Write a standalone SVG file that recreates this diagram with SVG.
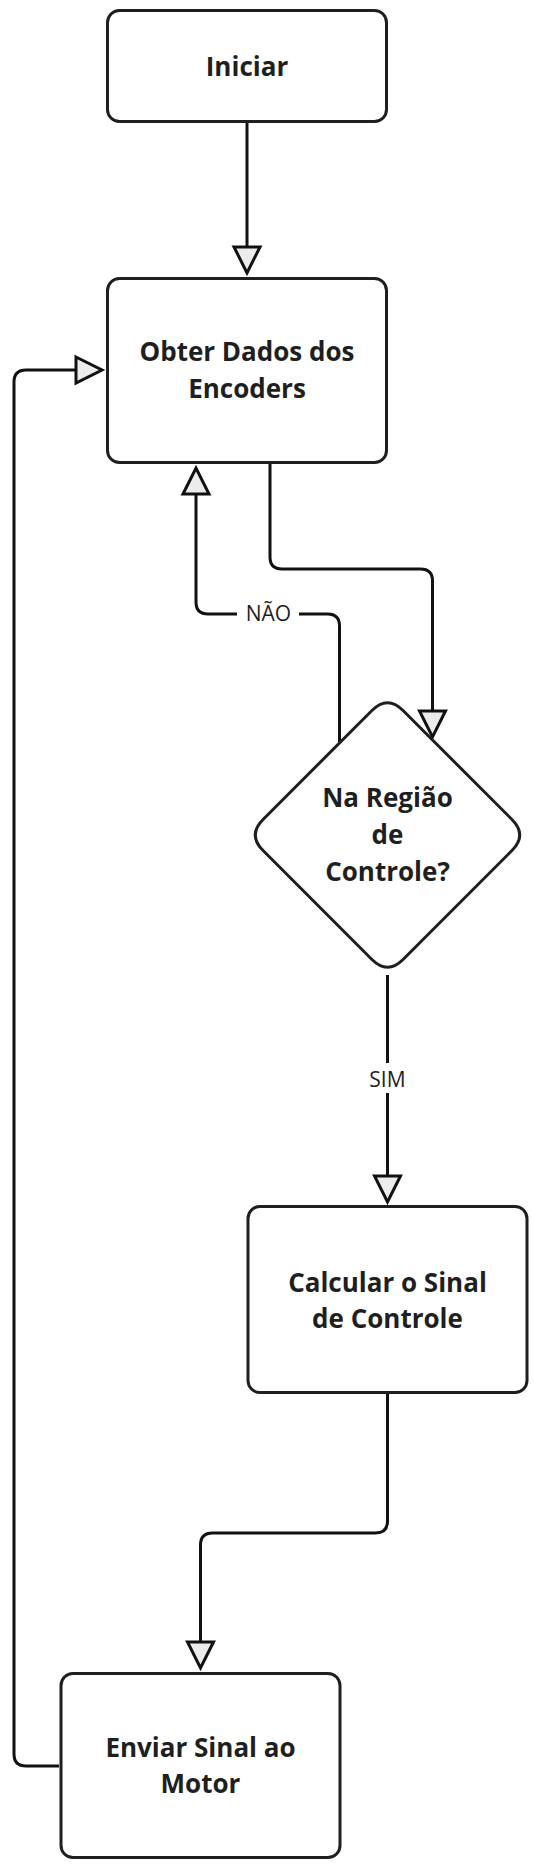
<svg xmlns="http://www.w3.org/2000/svg" width="534" height="1871" viewBox="0 0 534 1871">
<style>
.box{fill:#ffffff;stroke:#1f1f1f;stroke-width:3}
.t{font-family:"Open Sans","Noto Sans","DejaVu Sans",sans-serif;font-weight:bold;font-size:26px;fill:#1f1f1f;text-anchor:middle}
.lbl{font-family:"Open Sans","Noto Sans","DejaVu Sans",sans-serif;font-size:21px;fill:#1f1f1f;text-anchor:middle}
.c{fill:none;stroke:#111;stroke-width:3}
.ah{fill:#ececec;stroke:#111;stroke-width:3;stroke-linejoin:miter}
</style>
<defs>
<marker id="arr" markerUnits="userSpaceOnUse" markerWidth="40" markerHeight="40" viewBox="-33 -20 40 40" refX="0" refY="0" orient="auto">
<path class="ah" d="M-26,-13 L0,0 L-26,13 Z"/>
</marker>
</defs>
<rect width="534" height="1871" fill="#ffffff"/>
<g id="connectors">
<path class="c" d="M247,122 L247,273" marker-end="url(#arr)"/>
<path class="c" d="M270,462 L270,557 Q270,569 282,569 L420.5,569 Q432.5,569 432.5,581 L432.5,737" marker-end="url(#arr)"/>
<path class="c" d="M339.5,742 L339.5,626 Q339.5,614 327.5,614 L208,614 Q196,614 196,602 L196,468" marker-end="url(#arr)"/>
<rect x="237" y="600" width="62" height="28" fill="#ffffff"/>
<text class="lbl" x="268.5" y="621">NÃO</text>
<path class="c" d="M387.5,975 L387.5,1202" marker-end="url(#arr)"/>
<rect x="366" y="1063" width="43" height="30" fill="#ffffff"/>
<text class="lbl" x="387.5" y="1087">SIM</text>
<path class="c" d="M387.5,1392.5 L387.5,1521 Q387.5,1533 375.5,1533 L212.5,1533 Q200.5,1533 200.5,1545 L200.5,1668" marker-end="url(#arr)"/>
<path class="c" d="M59,1766 L26,1766 Q14,1766 14,1754 L14,382 Q14,370 26,370 L102,370" marker-end="url(#arr)"/>
</g>
<g id="iniciar">
<rect class="box" x="107.5" y="10.5" width="279" height="111" rx="12"/>
<text class="t" x="247" y="76">Iniciar</text>
</g>
<g id="obter">
<rect class="box" x="107.5" y="278.5" width="279" height="184" rx="12"/>
<text class="t" x="247" y="361">Obter Dados dos</text>
<text class="t" x="247" y="398">Encoders</text>
</g>
<g id="decisao">
<path class="box" d="M403.06,710.56 L511.94,819.44 Q527.5,835 511.94,850.56 L403.06,959.44 Q387.5,975 371.94,959.44 L263.06,850.56 Q247.5,835 263.06,819.44 L371.94,710.56 Q387.5,695 403.06,710.56 Z"/>
<text class="t" x="387.5" y="807">Na Região</text>
<text class="t" x="387.5" y="844">de</text>
<text class="t" x="387.5" y="881">Controle?</text>
</g>
<g id="calcular">
<rect class="box" x="248" y="1206.5" width="279" height="186" rx="12"/>
<text class="t" x="387.5" y="1292">Calcular o Sinal</text>
<text class="t" x="387.5" y="1328">de Controle</text>
</g>
<g id="enviar">
<rect class="box" x="61" y="1673.5" width="279" height="184" rx="12"/>
<text class="t" x="200.5" y="1757">Enviar Sinal ao</text>
<text class="t" x="200.5" y="1793">Motor</text>
</g>
</svg>
